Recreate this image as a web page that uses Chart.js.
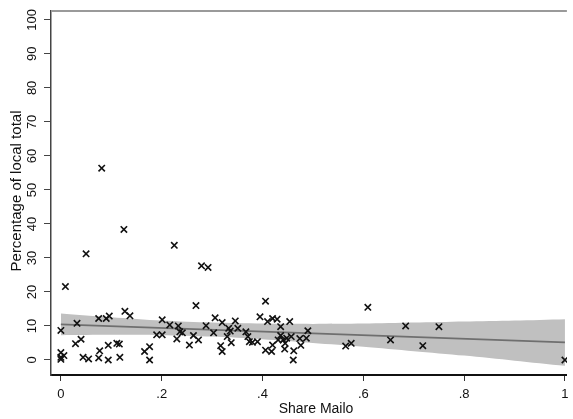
<!DOCTYPE html>
<html>
<head>
<meta charset="utf-8">
<script src="https://cdn.jsdelivr.net/npm/chart.js@4"></script>
<style>
  html, body { margin: 0; padding: 0; background: #fff; }
  #wrap { width: 573px; height: 419px; position: relative; }
</style>
</head>
<body>
<div id="wrap"><canvas id="scatterChart"></canvas></div>
<script>
// ── Data ──────────────────────────────────────────────────────────────────
const shareX = [
  0.081, 0.125, 0.050, 0.225, 0.279, 0.292, 0.009, 0.268, 0.306, 0.000,
  0.032, 0.075, 0.090, 0.096, 0.127, 0.137, 0.029, 0.040, 0.000, 0.006,
  0.000, 0.000, 0.044, 0.055, 0.075, 0.077, 0.094, 0.094, 0.111, 0.116,
  0.117, 0.166, 0.176, 0.176, 0.201, 0.190, 0.201, 0.216, 0.233, 0.236,
  0.241, 0.230, 0.255, 0.263, 0.273, 0.288, 0.303, 0.406, 0.609, 0.320,
  0.333, 0.336, 0.346, 0.351, 0.330, 0.338, 0.317, 0.320, 0.367, 0.371,
  0.374, 0.380, 0.390, 0.395, 0.410, 0.420, 0.429, 0.454, 0.436, 0.431,
  0.436, 0.441, 0.448, 0.445, 0.457, 0.406, 0.418, 0.420, 0.444, 0.462,
  0.461, 0.476, 0.474, 0.487, 0.490, 0.565, 0.576, 0.684, 0.750, 0.654,
  0.718, 1.000
];
const pctY = [
  56.4, 38.4, 31.2, 33.7, 27.7, 27.2, 21.6, 16.0, 12.4, 8.7,
  10.8, 12.2, 12.2, 12.9, 14.3, 13.0, 4.8, 6.1, 2.2, 1.3,
  0.2, 0.8, 0.8, 0.3, 0.6, 2.7, 4.3, 0.0, 4.9, 4.7,
  0.8, 2.5, 3.9, 0.0, 11.8, 7.4, 7.4, 10.3, 10.0, 8.3,
  8.0, 6.2, 4.4, 7.2, 5.9, 10.1, 8.0, 17.3, 15.5, 11.0,
  9.3, 8.5, 11.5, 9.3, 6.9, 5.1, 4.2, 2.5, 8.3, 6.9,
  5.4, 5.2, 5.4, 12.7, 11.3, 12.2, 12.0, 11.3, 9.8, 5.9,
  7.2, 5.9, 6.4, 4.9, 6.9, 2.9, 2.5, 4.4, 3.2, 2.7,
  0.0, 4.3, 6.3, 6.4, 8.6, 4.1, 4.9, 10.0, 9.8, 5.9,
  4.2, 0.0
];

// fitted line and 95% band
const fitX   = [0, 1];
const fitY   = [10.5, 5.2];
const bandX  = [0, 0.1, 0.2, 0.3, 0.4, 0.5, 0.6, 0.7, 0.8, 0.9, 1.0];
const bandHi = [13.7, 12.6, 11.6, 11.0, 10.7, 10.6, 10.7, 11.0, 11.3, 11.6, 12.0];
const bandLo = [7.3, 7.4, 7.3, 6.9, 6.1, 5.0, 3.9, 2.6, 1.3, -0.2, -1.7];

const xTicks  = [0, 0.2, 0.4, 0.6, 0.8, 1];
const xLabels = ['0', '.2', '.4', '.6', '.8', '1'];
const yTicks  = [0, 10, 20, 30, 40, 50, 60, 70, 80, 90, 100];

const xTitle = 'Share Mailo';
const yTitle = 'Percentage of local total';

const FONT = 'Arial, "Liberation Sans", sans-serif';

const pts = (xs, ys) => xs.map((x, i) => ({ x, y: ys[i] }));

// ── Axis text + top frame line ────────────────────────────────────────────
const axisText = {
  id: 'axisText',
  afterDraw(chart) {
    const { ctx, chartArea: a, scales: { x, y } } = chart;
    ctx.save();

    // top frame line
    ctx.strokeStyle = '#9a9a9a';
    ctx.lineWidth = 2;
    ctx.beginPath();
    ctx.moveTo(a.left, a.top);
    ctx.lineTo(a.right, a.top);
    ctx.stroke();

    ctx.fillStyle = '#111';
    ctx.font = '13px ' + FONT;
    ctx.textAlign = 'center';
    ctx.textBaseline = 'middle';

    x.ticks.forEach((t, i) => {
      ctx.fillText(xLabels[i], x.getPixelForValue(t.value), 394);
    });

    y.ticks.forEach(t => {
      ctx.save();
      ctx.translate(32, y.getPixelForValue(t.value));
      ctx.rotate(-Math.PI / 2);
      ctx.fillText(String(t.value), 0, 0);
      ctx.restore();
    });

    ctx.font = '14px ' + FONT;
    ctx.fillText(xTitle, 316, 409.5);

    ctx.save();
    ctx.font = '15px ' + FONT;
    ctx.translate(16.5, 191);
    ctx.rotate(-Math.PI / 2);
    ctx.fillText(yTitle, 0, 0);
    ctx.restore();

    ctx.restore();
  },
};

new Chart(document.getElementById('scatterChart'), {
  type: 'scatter',
  data: {
    datasets: [
      {
        data: pts(shareX, pctY),
        pointStyle: 'crossRot',
        pointRadius: 4.5,
        pointHoverRadius: 4.5,
        borderColor: '#111',
        borderWidth: 1.6,
        order: 0,
      },
      {
        type: 'line',
        data: pts(fitX, fitY),
        borderColor: '#6f6f6f',
        borderWidth: 1.8,
        pointRadius: 0,
        fill: false,
        order: 1,
      },
      {
        type: 'line',
        data: pts(bandX, bandHi),
        borderWidth: 0,
        borderColor: 'rgba(0,0,0,0)',
        backgroundColor: '#c0c0c0',
        pointRadius: 0,
        tension: 0.3,
        fill: '+1',
        order: 2,
      },
      {
        type: 'line',
        data: pts(bandX, bandLo),
        borderWidth: 0,
        borderColor: 'rgba(0,0,0,0)',
        pointRadius: 0,
        tension: 0.3,
        fill: false,
        order: 3,
      },
    ],
  },
  options: {
    responsive: true,
    maintainAspectRatio: false,
    animation: false,
    layout: { padding: { top: 11, right: 0, left: 0, bottom: 0 } },
    plugins: {
      legend: { display: false },
      tooltip: { enabled: false },
    },
    scales: {
      x: {
        type: 'linear',
        min: -0.0196,
        max: 1.0039,
        afterBuildTicks: s => { s.ticks = xTicks.map(v => ({ value: v })); },
        afterFit: s => { s.height = 44; },
        ticks: { display: false },
        grid: { drawOnChartArea: false, drawTicks: true, tickLength: 6, color: '#333', lineWidth: 1 },
        border: { color: '#111', width: 2 },
      },
      y: {
        type: 'linear',
        min: -4.41,
        max: 102.6,
        afterBuildTicks: s => { s.ticks = yTicks.map(v => ({ value: v })); },
        afterFit: s => { s.width = 51; },
        ticks: { display: false },
        grid: { drawOnChartArea: false, drawTicks: true, tickLength: 7, color: '#444', lineWidth: 1 },
        border: { color: '#444', width: 1.5 },
      },
    },
  },
  plugins: [axisText],
});
</script>
</body>
</html>
